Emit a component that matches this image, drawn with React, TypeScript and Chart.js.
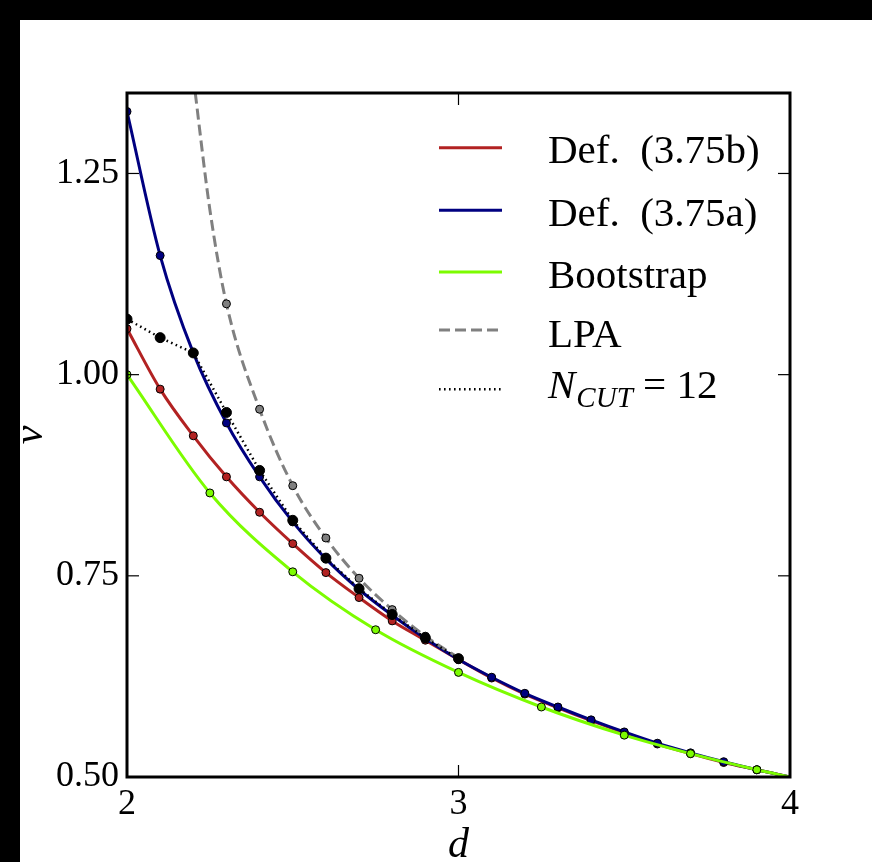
import React, { useEffect, useRef } from 'react';
import { Chart, registerables } from 'chart.js';

Chart.register(...registerables);

// ---- data ----
const dGrid = [2.0, 2.1, 2.2, 2.3, 2.4, 2.5, 2.6, 2.7, 2.8, 2.9, 3.0, 3.1, 3.2, 3.3, 3.4, 3.5, 3.6, 3.7, 3.8, 3.9, 4.0];
const nuDef375b = [1.057, 0.982, 0.924, 0.873, 0.829, 0.790, 0.754, 0.723, 0.694, 0.670, 0.646, 0.623, 0.603, 0.586, 0.570, 0.555, 0.541, 0.529, 0.518, 0.509, 0.500];
const nuDef375a = [1.327, 1.148, 1.027, 0.940, 0.873, 0.817, 0.771, 0.733, 0.701, 0.672, 0.646, 0.624, 0.604, 0.587, 0.571, 0.556, 0.542, 0.530, 0.519, 0.509, 0.500];

const dBootstrap = [2.0, 2.25, 2.5, 2.75, 3.0, 3.25, 3.5, 3.7, 3.9, 4.0];
const nuBootstrap = [1.0, 0.853, 0.755, 0.683, 0.630, 0.587, 0.552, 0.529, 0.509, 0.500];

const dLPACurve = [2.2, 2.25, 2.3, 2.4, 2.5, 2.6, 2.7, 2.8, 2.9, 3.0];
const nuLPACurve = [1.37, 1.205, 1.088, 0.957, 0.862, 0.797, 0.747, 0.708, 0.675, 0.648];
const dLPA = [2.3, 2.4, 2.5, 2.6, 2.7, 2.8, 2.9, 3.0];
const nuLPA = [1.088, 0.957, 0.862, 0.797, 0.747, 0.708, 0.675, 0.648];

const dNcut = [2.0, 2.1, 2.2, 2.3, 2.4, 2.5, 2.6, 2.7, 2.8, 2.9, 3.0];
const nuNcut = [1.069, 1.046, 1.027, 0.953, 0.881, 0.819, 0.772, 0.734, 0.702, 0.673, 0.647];

const xTicks = [2, 3, 4];
const yTicks = [0.5, 0.75, 1.0, 1.25];
const xRange = [2, 4];
const yRange = [0.5, 1.35];

const legendLabels = ['Def.  (3.75b)', 'Def.  (3.75a)', 'Bootstrap', 'LPA', 'N_CUT = 12'];

// ---- styles / layout ----
const RED = '#b22222';
const BLUE = '#000080';
const GREEN = '#7cfc00';
const GRAY = '#808080';
const BLACK = '#000000';
const SERIF = "'Liberation Serif', 'Times New Roman', serif";
const legendColors = [RED, BLUE, GREEN, GRAY, BLACK];
const legendDashes: number[][] = [[], [], [], [11, 5], [1.6, 3.4]];
const legendWidths = [3, 3, 3, 3, 2.5];
const legendRowY = [127.7, 190.3, 252, 310, 369.3];
const legendBaseY = [142.7, 206, 268, 326.7, 378.3];

const pts = (xs: number[], ys: number[]) => xs.map((x, i) => ({ x, y: ys[i] }));

const overlayPlugin = {
  id: 'overlay',
  afterDatasetsDraw(chart: any) {
    const { ctx, chartArea: a, scales } = chart;
    ctx.save();
    const seg = (x1: number, y1: number, x2: number, y2: number) => {
      ctx.beginPath();
      ctx.moveTo(x1, y1);
      ctx.lineTo(x2, y2);
      ctx.stroke();
    };
    // inward ticks on all four sides
    ctx.strokeStyle = '#000';
    ctx.lineWidth = 1.2;
    ctx.setLineDash([]);
    for (const v of xTicks) {
      const x = scales.x.getPixelForValue(v);
      seg(x, a.bottom, x, a.bottom - 12);
      seg(x, a.top, x, a.top + 12);
    }
    for (const v of yTicks) {
      const y = scales.y.getPixelForValue(v);
      seg(a.left, y, a.left + 12, y);
      seg(a.right, y, a.right - 12, y);
    }
    // frame
    ctx.lineWidth = 3;
    ctx.strokeRect(a.left, a.top, a.right - a.left, a.bottom - a.top);

    // legend
    const lx0 = 419, lx1 = 482, tx = 528;
    legendLabels.forEach((label, i) => {
      ctx.strokeStyle = legendColors[i];
      ctx.lineWidth = legendWidths[i];
      ctx.setLineDash(legendDashes[i]);
      ctx.lineCap = 'butt';
      seg(lx0, legendRowY[i], lx1, legendRowY[i]);
      ctx.setLineDash([]);
      ctx.fillStyle = '#000';
      ctx.textAlign = 'left';
      ctx.textBaseline = 'alphabetic';
      const by = legendBaseY[i];
      if (label.startsWith('N_')) {
        const [main, rest] = label.split('_');
        const [sub, ...tail] = rest.split(' ');
        ctx.font = `italic 41px ${SERIF}`;
        ctx.fillText(main, tx, by);
        let x = tx + ctx.measureText(main).width + 1;
        ctx.font = `italic 29px ${SERIF}`;
        ctx.fillText(sub, x, by + 9);
        x += ctx.measureText(sub).width;
        ctx.font = `41px ${SERIF}`;
        ctx.fillText(' ' + tail.join(' '), x, by);
      } else {
        ctx.font = `41px ${SERIF}`;
        ctx.fillText(label, tx, by);
      }
    });

    // axis titles
    ctx.fillStyle = '#000';
    ctx.font = `italic 42px ${SERIF}`;
    ctx.textAlign = 'center';
    ctx.textBaseline = 'alphabetic';
    ctx.fillText('d', (a.left + a.right) / 2, 837);
    ctx.save();
    ctx.translate(22, (a.top + a.bottom) / 2);
    ctx.rotate(-Math.PI / 2);
    ctx.fillText('\u03bd', 0, 0);
    ctx.restore();
    ctx.restore();
  },
};

export default function App() {
  const ref = useRef<HTMLCanvasElement>(null);
  useEffect(() => {
    if (!ref.current) return;
    const marker = (r: number) => (c: any) => (c.raw && c.raw.x >= 4 ? 0 : r);
    const chart = new Chart(ref.current, {
      type: 'line',
      data: {
        datasets: [
          {
            label: 'Def. (3.75b)', data: pts(dGrid, nuDef375b), order: 6,
            borderColor: RED, borderWidth: 3, backgroundColor: RED,
            pointBackgroundColor: RED, pointBorderColor: '#000', pointBorderWidth: 1, pointRadius: marker(4),
            cubicInterpolationMode: 'monotone',
          },
          {
            label: 'Def. (3.75a)', data: pts(dGrid, nuDef375a), order: 5,
            borderColor: BLUE, borderWidth: 3, backgroundColor: BLUE,
            pointBackgroundColor: BLUE, pointBorderColor: '#000', pointBorderWidth: 1, pointRadius: marker(4),
            cubicInterpolationMode: 'monotone',
          },
          {
            label: 'Bootstrap', data: pts(dBootstrap, nuBootstrap), order: 4,
            borderColor: GREEN, borderWidth: 3, backgroundColor: GREEN,
            pointBackgroundColor: GREEN, pointBorderColor: '#000', pointBorderWidth: 1, pointRadius: marker(4),
            cubicInterpolationMode: 'monotone',
          },
          {
            label: 'LPA curve', data: pts(dLPACurve, nuLPACurve), order: 3,
            borderColor: GRAY, borderWidth: 3, borderDash: [11, 5], pointRadius: 0,
            cubicInterpolationMode: 'monotone', capBezierPoints: false,
          },
          {
            label: 'LPA', data: pts(dLPA, nuLPA), order: 2, showLine: false,
            borderColor: GRAY, backgroundColor: GRAY,
            pointBackgroundColor: GRAY, pointBorderColor: '#000', pointBorderWidth: 1, pointRadius: 4,
          },
          {
            label: 'N_CUT = 12', data: pts(dNcut, nuNcut), order: 1,
            borderColor: BLACK, borderWidth: 2.5, borderDash: [1.6, 3.4], backgroundColor: BLACK,
            pointBackgroundColor: BLACK, pointBorderColor: '#000', pointBorderWidth: 1, pointRadius: 5,
            tension: 0,
          },
        ] as any,
      },
      options: {
        responsive: false,
        devicePixelRatio: 1,
        animation: false,
        events: [],
        layout: { padding: { top: 73, right: 82, left: 0, bottom: 0 } },
        plugins: { legend: { display: false }, tooltip: { enabled: false } },
        scales: {
          x: {
            type: 'linear', min: xRange[0], max: xRange[1],
            afterBuildTicks: (s: any) => { s.ticks = xTicks.map((v) => ({ value: v })); },
            afterFit: (s: any) => { s.height = 85; },
            grid: { display: false, drawTicks: false, tickLength: 0 },
            border: { display: false },
            ticks: {
              color: '#000', padding: 6, maxRotation: 0,
              font: { family: SERIF, size: 36 },
              callback: (v: any) => String(v),
            },
          },
          y: {
            type: 'linear', min: yRange[0], max: yRange[1],
            afterBuildTicks: (s: any) => { s.ticks = yTicks.map((v) => ({ value: v })); },
            afterFit: (s: any) => { s.width = 107; },
            grid: { display: false, drawTicks: false, tickLength: 0 },
            border: { display: false },
            ticks: {
              color: '#000', padding: 8,
              font: { family: SERIF, size: 36 },
              callback: (v: any) => Number(v).toFixed(2),
            },
          },
        },
      } as any,
      plugins: [overlayPlugin],
    });
    return () => chart.destroy();
  }, []);
  return (
    <div style={{ position: 'fixed', left: 0, top: 0, width: 872, height: 862, background: '#000' }}>
      <div style={{ position: 'absolute', left: 20, top: 20, width: 852, height: 842, background: '#fff' }}>
        <canvas ref={ref} width={852} height={842} style={{ display: 'block', width: 852, height: 842 }} />
      </div>
    </div>
  );
}
